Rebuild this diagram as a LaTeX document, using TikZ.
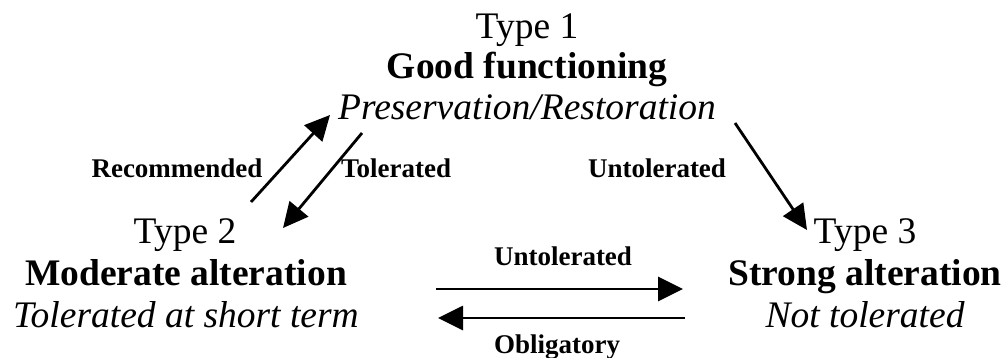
\documentclass[tikz,border=0pt]{standalone}
\usepackage{fontspec}
\setmainfont{Liberation Serif}
\usetikzlibrary{arrows.meta}
\begin{document}
\begin{tikzpicture}[x=1pt,y=-1pt,
  big/.style={anchor=base,inner sep=0pt,font=\fontsize{37.5}{41}\selectfont},
  bigb/.style={big,font=\fontsize{37.5}{41}\selectfont\bfseries},
  bigi/.style={big,font=\fontsize{37.5}{41}\selectfont\itshape},
  lbl/.style={anchor=base,inner sep=0pt,font=\fontsize{27}{30}\selectfont\bfseries},
  arr/.style={line width=2.8pt,-{Triangle[length=25pt,width=24pt]}}]
\useasboundingbox (0,0) rectangle (1008,358);
% Type 1 block
\node[big]  (t1a) at (527,39)  {Type 1};
\node[bigb] (t1b) at (527,79)  {Good functioning};
\node[bigi] (t1c) at (527,120) {Preservation/Restoration};
% Type 2 block
\node[big]  (t2a) at (185,243) {Type 2};
\node[bigb] (t2b) at (186,285) {Moderate alteration};
\node[bigi] (t2c) at (186,327) {Tolerated at short term};
% Type 3 block
\node[big]  (t3a) at (865,243) {Type 3};
\node[bigb] (t3b) at (865,285) {Strong alteration};
\node[bigi] (t3c) at (865,327) {Not tolerated};
% transition labels
\node[lbl] (lrec) at (177,178) {Recommended};
\node[lbl] (ltol) at (396,178) {Tolerated};
\node[lbl] (lunt) at (657,178) {Untolerated};
\node[lbl] (lunb) at (563,265) {Untolerated};
\node[lbl] (lobl) at (557,353) {Obligatory};
% transitions between the three types
\draw[arr] ([shift={(66,-41)}]t2a.base) -- ([shift={(-197,-5)}]t1c.base);
\draw[arr] ([shift={(-165,13)}]t1c.base) -- ([shift={(98,-15)}]t2a.base);
\draw[arr] ([shift={(208,3)}]t1c.base) -- ([shift={(-58,-13)}]t3a.base);
\draw[arr] ([shift={(250,4)}]t2b.base) -- ([shift={(-182,4)}]t3b.base);
\draw[arr] ([shift={(-180,33)}]t3b.base) -- ([shift={(252,33)}]t2b.base);
\end{tikzpicture}
\end{document}
